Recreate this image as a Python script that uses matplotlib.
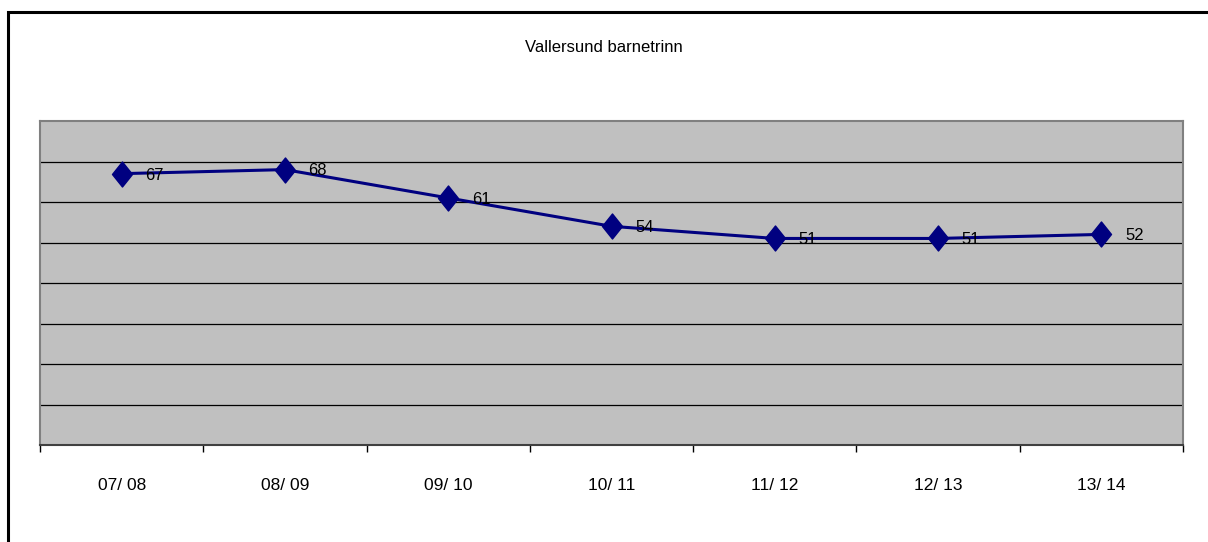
import matplotlib.pyplot as plt
from matplotlib.patches import Rectangle
from matplotlib.path import Path

plt.rcParams["font.family"] = ["Liberation Sans", "DejaVu Sans"]

# data
seasons = ["07/ 08", "08/ 09", "09/ 10", "10/ 11", "11/ 12", "12/ 13", "13/ 14"]
pupils = [67, 68, 61, 54, 51, 51, 52]

fig = plt.figure(figsize=(12.08, 5.42), dpi=100)

# black frame round the chart area (right and bottom run off the picture)
fig.patches.append(
    Rectangle((8 / 1208, -0.05), 1.2, 1.05 - 12 / 542,
              transform=fig.transFigure, fill=False, edgecolor="black",
              linewidth=2.2)
)

ax = fig.add_axes([40 / 1208, 1 - 445 / 542, (1183 - 40) / 1208, (445 - 121) / 542])
ax.set_facecolor("#c0c0c0")

# slightly tall diamond, like the Excel marker
diamond = Path([(0, 1), (0.8, 0), (0, -1), (-0.8, 0), (0, 1)],
               [Path.MOVETO, Path.LINETO, Path.LINETO, Path.LINETO, Path.CLOSEPOLY])

x = list(range(len(seasons)))
ax.plot(x, pupils, color="#000080", linewidth=2.2, marker=diamond, markersize=18,
        markerfacecolor="#000080", markeredgecolor="#000080", zorder=3)

for xi, v in zip(x, pupils):
    ax.annotate(str(v), (xi, v), xytext=(17, -1), textcoords="offset points",
                ha="left", va="center", fontsize=12, color="black")

ax.set_xlim(-0.5, len(seasons) - 0.5)
ax.set_ylim(0, 80)

# horizontal gridlines every 10
ax.set_yticks(range(10, 80, 10))
ax.yaxis.grid(True, color="black", linewidth=0.9)
ax.tick_params(axis="y", left=False, labelleft=False)

# category labels centred, tick marks on the boundaries
ax.set_xticks(x)
ax.set_xticklabels(seasons, fontsize=12.5)
ax.set_xticks([i - 0.5 for i in range(len(seasons) + 1)], minor=True)
ax.tick_params(axis="x", which="major", length=0, pad=24)
ax.tick_params(axis="x", which="minor", direction="out", length=5,
               width=1, color="black")

for side in ["top", "left", "right"]:
    ax.spines[side].set_color("#808080")
    ax.spines[side].set_linewidth(1.5)
ax.spines["bottom"].set_color("#404040")
ax.spines["bottom"].set_linewidth(1.5)

fig.text(0.5, 1 - 48 / 542, "Vallersund barnetrinn", ha="center", va="center",
         fontsize=12)

fig.savefig("out.png", dpi=100)
